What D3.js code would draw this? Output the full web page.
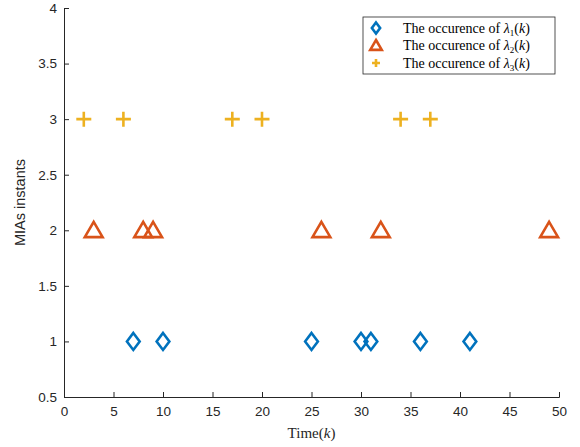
<!DOCTYPE html>
<html>
<head>
<meta charset="utf-8">
<script src="https://cdn.jsdelivr.net/npm/d3@7"></script>
<style>
body { margin: 0; background: #fff; }
svg { display: block; }
</style>
</head>
<body>
<svg id="chart" width="580" height="447"></svg>
<script>
// occurrence times of each MIA type
const lambda1 = [7, 10, 25, 30, 31, 36, 41];
const lambda2 = [3, 8, 9, 26, 32, 49];
const lambda3 = [2, 6, 17, 20, 34, 37];
const levels = [1, 2, 3];
const xTicks = [0, 5, 10, 15, 20, 25, 30, 35, 40, 45, 50];
const yTicks = [0.5, 1, 1.5, 2, 2.5, 3, 3.5, 4];
const colors = ["#0072BD", "#D95319", "#EDB120"];

const margin = {top: 8, right: 21, bottom: 50, left: 64};
const svg = d3.select("#chart");
const width = 580 - margin.left - margin.right;
const height = 447 - margin.top - margin.bottom;

const g = svg.append("g")
    .attr("transform", "translate(" + margin.left + "," + margin.top + ")");

const x = d3.scaleLinear().domain([0, 50]).range([0, width]);
const y = d3.scaleLinear().domain([0.5, 4]).range([height, 0]);

const xAxis = g.append("g")
    .attr("transform", "translate(0," + height + ")")
    .call(d3.axisBottom(x).tickValues(xTicks).tickSize(-5).tickPadding(9).tickFormat(d3.format("d")));
const yAxis = g.append("g")
    .call(d3.axisLeft(y).tickValues(yTicks).tickSize(-5).tickPadding(7).tickFormat(d => d));

[xAxis, yAxis].forEach(a => {
    a.selectAll("path").attr("stroke", "#262626").attr("stroke-width", 1);
    a.selectAll("line").attr("stroke", "#262626");
    a.selectAll("text").attr("fill", "#262626")
        .style("font-family", "Liberation Sans, Arial, sans-serif").style("font-size", "13.5px");
});

svg.append("text")
    .attr("x", margin.left + width / 2)
    .attr("y", 438)
    .attr("text-anchor", "middle")
    .style("font-family", "Liberation Serif, serif").style("font-size", "15px")
    .attr("fill", "#262626")
    .html("Time(<tspan font-style='italic'>k</tspan>)");

svg.append("text")
    .attr("transform", "translate(25," + (margin.top + height / 2) + ") rotate(-90)")
    .attr("text-anchor", "middle")
    .style("font-family", "Liberation Sans, Arial, sans-serif").style("font-size", "14.5px")
    .attr("fill", "#262626")
    .text("MIAs instants");

// marker shapes
const diamond = (s, r) => "M0," + (-s) + "L" + (s * r) + ",0L0," + s + "L" + (-s * r) + ",0Z";
const triangle = s => "M0," + (-s) + "L" + (s * 1.05) + "," + (s * 0.8) + "L" + (-s * 1.05) + "," + (s * 0.8) + "Z";
const plus = s => "M" + (-s) + ",0L" + s + ",0M0," + (-s) + "L0," + s;
const shapes = [d => diamond(8.5, 0.75), d => triangle(8.5), d => plus(7.5)];

const series = [lambda1, lambda2, lambda3];
series.forEach((vals, i) => {
    g.append("g").selectAll("path")
        .data(vals)
        .join("path")
        .attr("transform", d => "translate(" + x(d) + "," + y(levels[i]) + ")")
        .attr("d", shapes[i])
        .attr("fill", "none")
        .attr("stroke", colors[i])
        .attr("stroke-width", 2.6);
});

// legend
const legend = svg.append("g").attr("transform", "translate(363,17)");
legend.append("rect")
    .attr("width", 192).attr("height", 57)
    .attr("fill", "#fff").attr("stroke", "#262626").attr("stroke-width", 0.8);
const legendLabels = ["1", "2", "3"];
const legendShapes = [() => diamond(5.5, 0.75), () => triangle(5.5), () => plus(4)];
legendLabels.forEach((lab, i) => {
    const row = legend.append("g").attr("transform", "translate(13," + (11 + i * 17.5) + ")");
    row.append("path").attr("d", legendShapes[i]).attr("fill", "none")
        .attr("stroke", colors[i]).attr("stroke-width", 2.6);
    row.append("text")
        .attr("x", 27).attr("y", 4.5)
        .style("font-family", "Liberation Serif, serif").style("font-size", "14px")
        .attr("fill", "#000")
        .html("The occurence of <tspan font-style='italic'>λ</tspan><tspan font-size='9px' dy='3'>" + lab +
              "</tspan><tspan dy='-3'>(</tspan><tspan font-style='italic'>k</tspan>)");
});
</script>
</body>
</html>
